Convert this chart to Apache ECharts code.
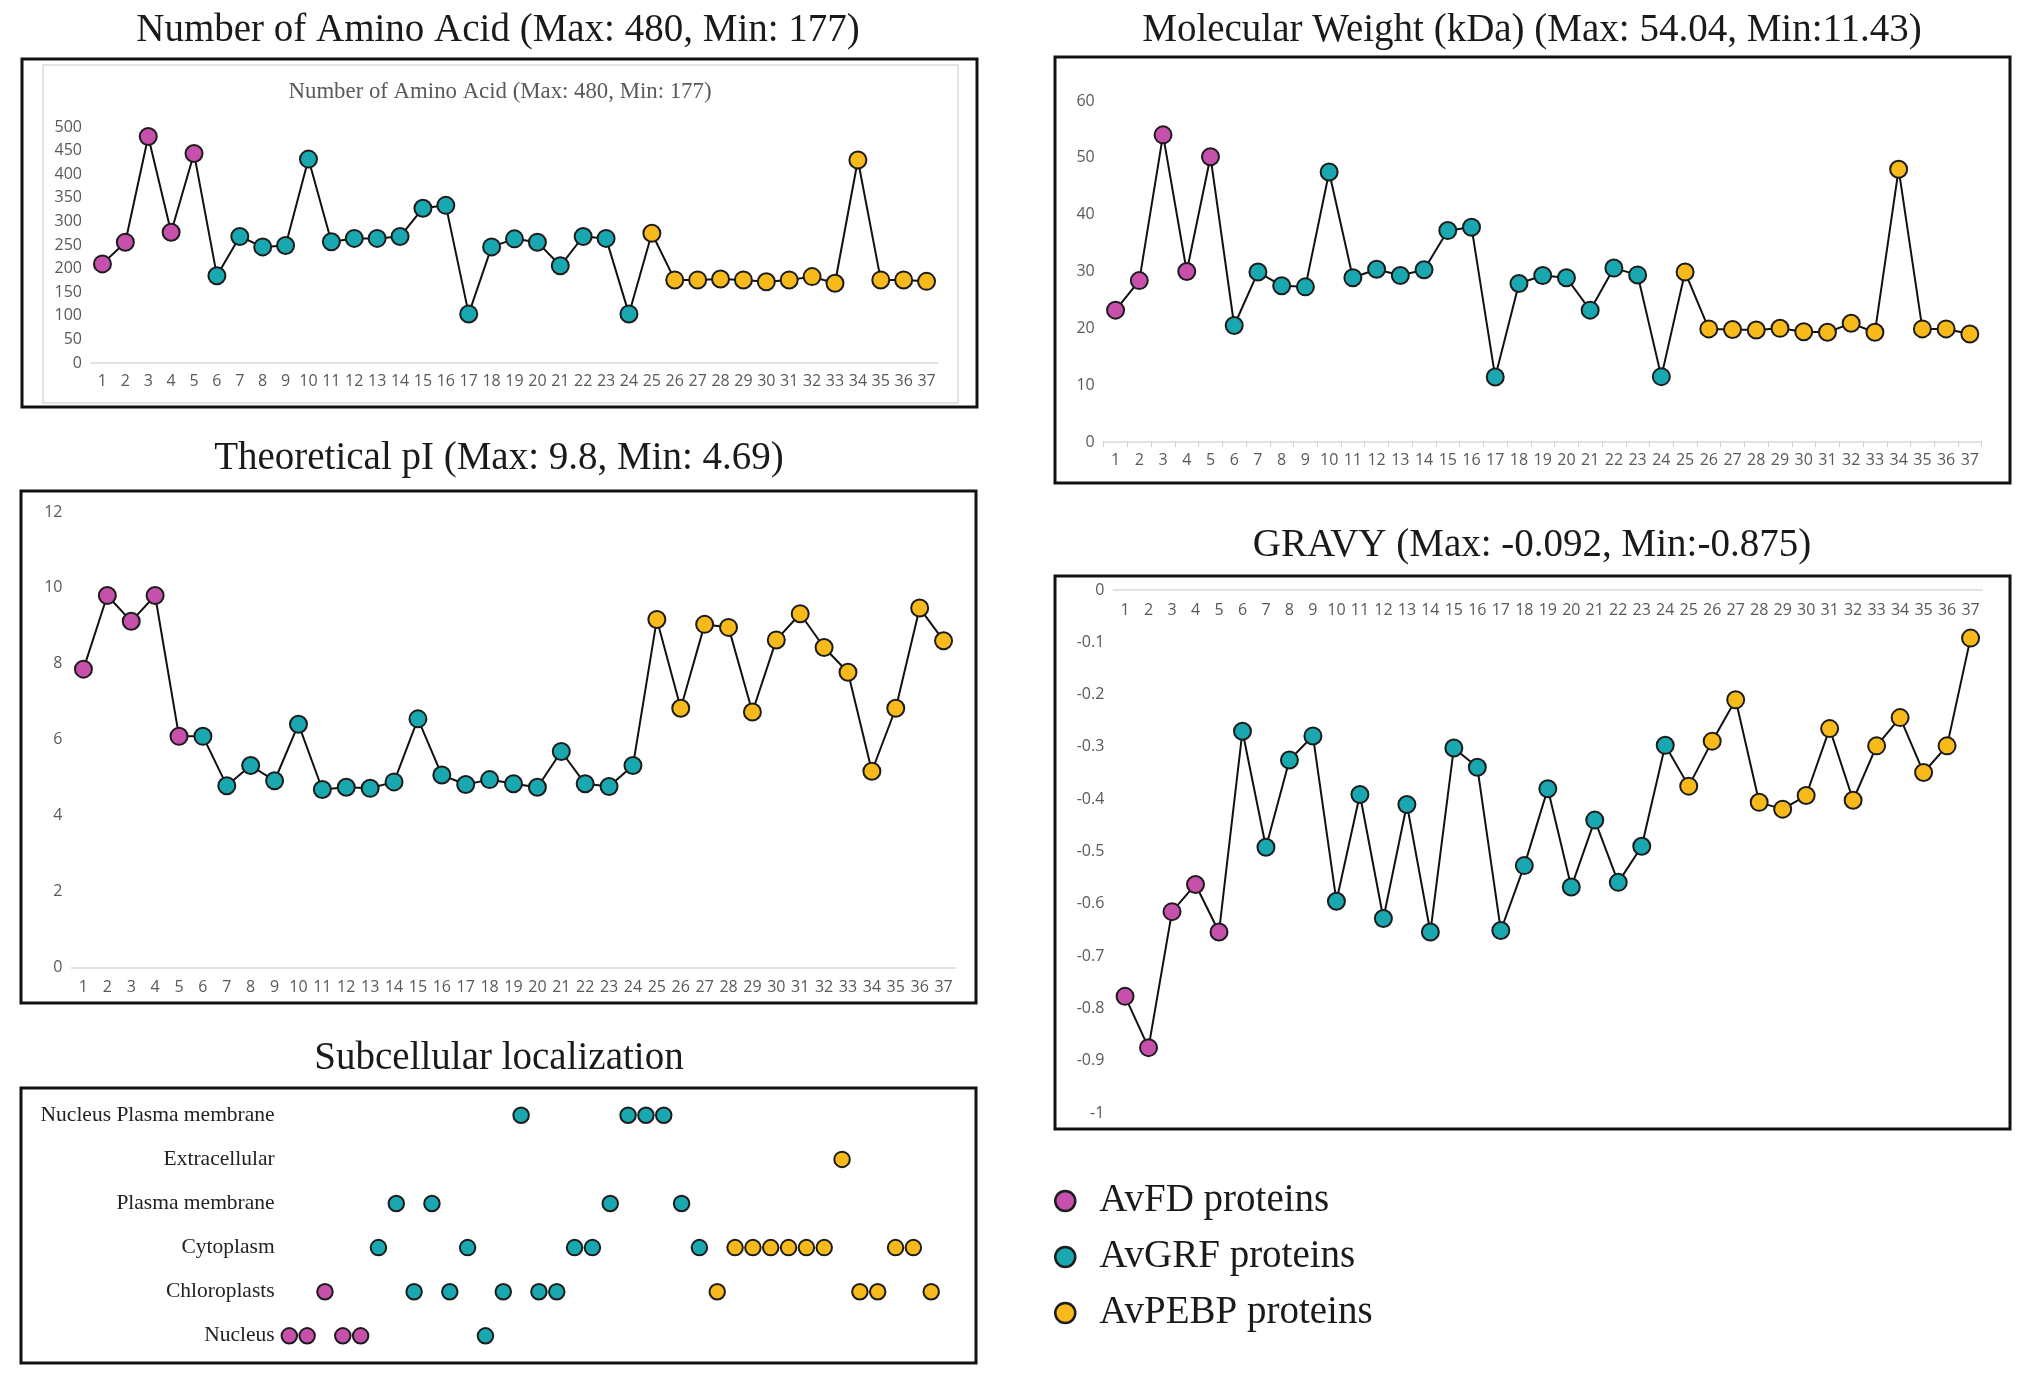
<!DOCTYPE html>
<html>
<head>
<meta charset="utf-8">
<title>Protein properties</title>
<script src="https://cdn.jsdelivr.net/npm/echarts@6/dist/echarts.min.js"></script>
<style>
  html, body { margin: 0; padding: 0; background: #fff; }
  #chart { width: 2035px; height: 1384px; }
</style>
</head>
<body>
<div id="chart"></div>
<script>
// protein index shown on the x axes
const proteins = ['1', '2', '3', '4', '5', '6', '7', '8', '9', '10', '11', '12', '13', '14', '15', '16', '17', '18', '19',
  '20', '21', '22', '23', '24', '25', '26', '27', '28', '29', '30', '31', '32', '33', '34', '35', '36', '37']

// family of each protein (FD / GRF / PEBP)
const family = ['FD', 'FD', 'FD', 'FD', 'FD',
  'GRF', 'GRF', 'GRF', 'GRF', 'GRF', 'GRF', 'GRF', 'GRF', 'GRF', 'GRF', 'GRF', 'GRF', 'GRF', 'GRF', 'GRF', 'GRF', 'GRF', 'GRF', 'GRF',
  'PEBP', 'PEBP', 'PEBP', 'PEBP', 'PEBP', 'PEBP', 'PEBP', 'PEBP', 'PEBP', 'PEBP', 'PEBP', 'PEBP', 'PEBP']

const familyNames = { FD: 'AvFD proteins', GRF: 'AvGRF proteins', PEBP: 'AvPEBP proteins' }

const aminoAcids = [210, 256, 480, 277, 444, 185, 268, 246, 249, 432, 257, 264, 264, 268, 328, 334, 104, 246, 263,
  256, 206, 268, 264, 104, 275, 176, 176, 178, 176, 172, 176, 183, 169, 430, 176, 176, 173]

const molWeight = [23.2, 28.4, 54.04, 30.0, 50.2, 20.5, 29.9, 27.5, 27.3, 47.5, 28.9, 30.4, 29.3, 30.3, 37.2, 37.8, 11.43, 27.9, 29.3,
  28.9, 23.2, 30.6, 29.4, 11.5, 29.9, 19.9, 19.8, 19.7, 20.0, 19.4, 19.3, 20.9, 19.3, 48.0, 19.9, 19.9, 19.0]

const theoreticalPI = [7.86, 9.8, 9.12, 9.8, 6.09, 6.09, 4.79, 5.32, 4.92, 6.41, 4.69, 4.75, 4.72, 4.89, 6.55, 5.07, 4.82, 4.95, 4.84,
  4.75, 5.69, 4.84, 4.77, 5.32, 9.17, 6.83, 9.04, 8.96, 6.73, 8.63, 9.32, 8.43, 7.78, 5.17, 6.83, 9.47, 8.61]

const gravy = [-0.777, -0.875, -0.615, -0.563, -0.654, -0.270, -0.492, -0.325, -0.279, -0.595, -0.391, -0.628, -0.410, -0.654, -0.302, -0.339, -0.651, -0.527, -0.380,
  -0.568, -0.440, -0.559, -0.490, -0.297, -0.375, -0.289, -0.210, -0.406, -0.419, -0.393, -0.265, -0.402, -0.298, -0.244, -0.349, -0.298, -0.092]

// subcellular localization rows (bottom to top) and per-protein location
const locations = ['Nucleus', 'Chloroplasts', 'Cytoplasm', 'Plasma membrane', 'Extracellular', 'Nucleus Plasma membrane']
const proteinLocation = ['Nucleus', 'Nucleus', 'Chloroplasts', 'Nucleus', 'Nucleus', 'Cytoplasm', 'Plasma membrane', 'Chloroplasts',
  'Plasma membrane', 'Chloroplasts', 'Cytoplasm', 'Nucleus', 'Chloroplasts', 'Nucleus Plasma membrane', 'Chloroplasts', 'Chloroplasts',
  'Cytoplasm', 'Cytoplasm', 'Plasma membrane', 'Nucleus Plasma membrane', 'Nucleus Plasma membrane', 'Nucleus Plasma membrane',
  'Plasma membrane', 'Cytoplasm', 'Chloroplasts', 'Cytoplasm', 'Cytoplasm', 'Cytoplasm', 'Cytoplasm', 'Cytoplasm', 'Cytoplasm',
  'Extracellular', 'Chloroplasts', 'Chloroplasts', 'Cytoplasm', 'Cytoplasm', 'Chloroplasts']

const colors = { FD: '#C650AB', GRF: '#19A7B0', PEBP: '#F8BA1B' }
const edge = '#1c1c1c'
const tickFont = { fontFamily: 'Open Sans', fontSize: 16, color: '#595959' }
const serif = 'Liberation Serif'

const chart = echarts.init(document.getElementById('chart'))

// grids: amino, pI, subcellular, MW, GRAVY
const grids = [
  { left: 91, top: 127, width: 847, height: 236 },
  { left: 71.5, top: 512, width: 884, height: 455.5 },
  { left: 278.6, top: 1093.2, width: 663.3, height: 264.7 },
  { left: 1103.7, top: 101, width: 878, height: 341 },
  { left: 1113.3, top: 590, width: 869, height: 523 }
]

function catAxis(gridIndex, margin, ticks) {
  return {
    type: 'category',
    gridIndex,
    data: proteins,
    boundaryGap: true,
    axisLine: { lineStyle: { color: '#d9d9d9', width: 1.5 } },
    axisTick: { show: !!ticks, length: 5, lineStyle: { color: '#d0d0d0' } },
    axisLabel: Object.assign({ interval: 0, margin }, tickFont)
  }
}

function valAxis(gridIndex, min, max, interval) {
  return {
    type: 'value',
    gridIndex,
    min, max, interval,
    splitLine: { show: false },
    axisLine: { show: false },
    axisTick: { show: false },
    axisLabel: Object.assign({ margin: 9 }, tickFont)
  }
}

function lineSeries(name, idx, values) {
  return {
    name,
    type: 'line',
    xAxisIndex: idx,
    yAxisIndex: idx,
    symbol: 'circle',
    symbolSize: 17,
    lineStyle: { color: '#111', width: 2 },
    itemStyle: { borderColor: edge, borderWidth: 2 },
    emphasis: { disabled: true },
    data: values.map((v, i) => ({ value: v, itemStyle: { color: colors[family[i]] } }))
  }
}

function locSeries(fam) {
  const pts = []
  proteinLocation.forEach((loc, i) => {
    if (family[i] === fam) pts.push([i + 1, loc])
  })
  return {
    name: familyNames[fam],
    type: 'scatter',
    xAxisIndex: 2,
    yAxisIndex: 2,
    symbol: 'circle',
    symbolSize: 15.5,
    itemStyle: { color: colors[fam], borderColor: edge, borderWidth: 2, opacity: 1 },
    emphasis: { disabled: true },
    data: pts
  }
}

function box(x, y, w, h) {
  return {
    type: 'rect',
    silent: true,
    shape: { x, y, width: w, height: h },
    style: { fill: 'none', stroke: '#111', lineWidth: 3 }
  }
}

function heading(text, x, y, size, fill) {
  return {
    type: 'text',
    silent: true,
    x, y,
    style: {
      text,
      fontFamily: serif,
      fontSize: size || 39,
      fill: fill || '#1a1a1a',
      align: 'center',
      verticalAlign: 'middle'
    }
  }
}

// GRAVY: category axis sits on the zero line at the top, labels hang below it
const gravyAxis = catAxis(4, 12)
gravyAxis.position = 'top'
gravyAxis.axisLine.onZero = false
gravyAxis.axisLabel.inside = true

const option = {
  animation: false,
  backgroundColor: '#fff',
  grid: grids,
  xAxis: [
    catAxis(0, 10),
    catAxis(1, 12),
    { type: 'value', gridIndex: 2, min: 0.4, max: 37.6, show: false },
    catAxis(3, 10, true),
    gravyAxis
  ],
  yAxis: [
    valAxis(0, 0, 500, 50),
    valAxis(1, 0, 12, 2),
    {
      type: 'category',
      gridIndex: 2,
      data: locations,
      axisLine: { show: false },
      axisTick: { show: false },
      axisLabel: { fontFamily: serif, fontSize: 21.5, color: '#222', margin: 4 }
    },
    valAxis(3, 0, 60, 10),
    valAxis(4, -1, 0, 0.1)
  ],
  legend: {
    data: ['AvFD proteins', 'AvGRF proteins', 'AvPEBP proteins'],
    orient: 'vertical',
    left: 1049,
    top: 1176,
    itemWidth: 58,
    itemHeight: 20,
    itemGap: 16,
    icon: 'circle',
    selectedMode: false,
    itemStyle: { borderColor: edge, borderWidth: 2.5 },
    textStyle: { fontFamily: serif, fontSize: 39, color: '#1a1a1a', lineHeight: 40 }
  },
  graphic: {
    elements: [
      box(22, 59, 955, 348),
      {
        type: 'rect',
        silent: true,
        shape: { x: 43, y: 65, width: 915, height: 338 },
        style: { fill: 'none', stroke: '#dcdcdc', lineWidth: 1.5 }
      },
      box(21, 491, 955, 512),
      box(21, 1088, 955, 275),
      box(1055, 57, 955, 426),
      box(1055, 576, 955, 553),
      heading('Number of Amino Acid (Max: 480, Min: 177)', 498, 31),
      heading('Number of Amino Acid (Max: 480, Min: 177)', 500, 92, 22.8, '#595959'),
      heading('Theoretical pI (Max: 9.8, Min: 4.69)', 499, 459),
      heading('Subcellular localization', 499, 1059),
      heading('Molecular Weight (kDa) (Max: 54.04, Min:11.43)', 1532, 31),
      heading('GRAVY (Max: -0.092, Min:-0.875)', 1532, 546)
    ]
  },
  series: [
    lineSeries('Number of Amino Acid', 0, aminoAcids),
    lineSeries('Theoretical pI', 1, theoreticalPI),
    lineSeries('Molecular Weight', 3, molWeight),
    lineSeries('GRAVY', 4, gravy),
    locSeries('FD'),
    locSeries('GRF'),
    locSeries('PEBP')
  ]
}

chart.setOption(option)
</script>
</body>
</html>
